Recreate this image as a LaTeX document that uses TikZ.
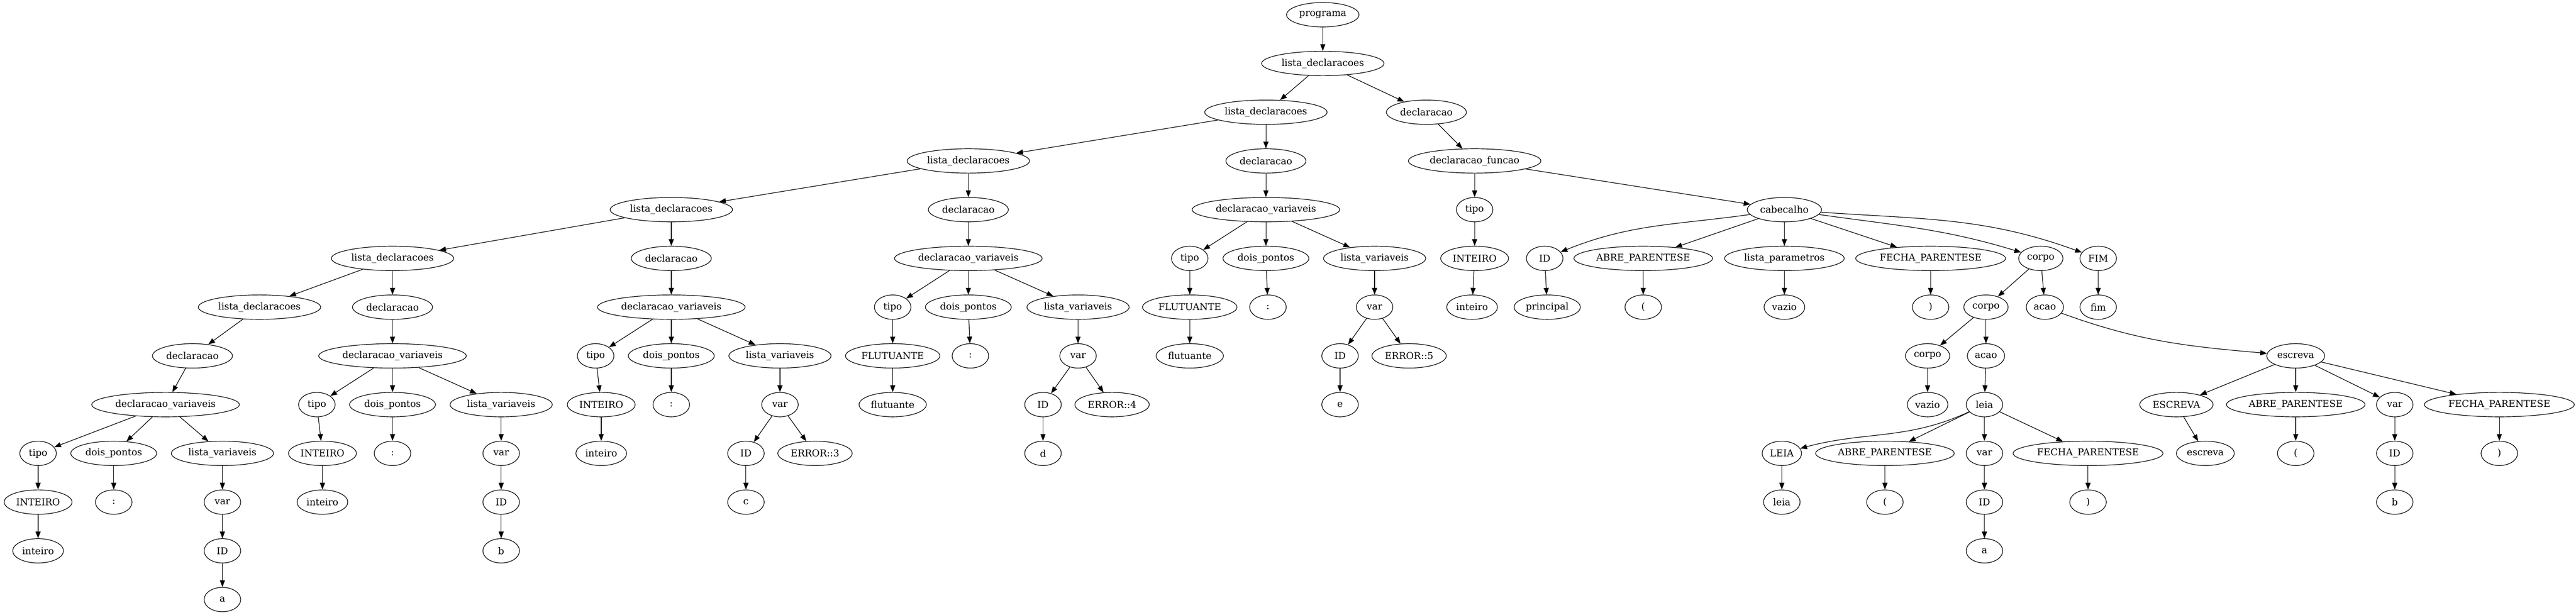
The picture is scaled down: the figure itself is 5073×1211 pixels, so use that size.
\documentclass[tikz,border=0pt]{standalone}
\usepackage{fontspec}
\setmainfont{DejaVu Serif}
\usetikzlibrary{shapes.geometric,arrows.meta}
\begin{document}
\begin{tikzpicture}[x=0.75pt,y=-0.75pt,
    tn/.style={ellipse, draw, line width=0.9pt, minimum width=54pt, minimum height=36pt,
        inner xsep=3pt, inner ysep=1pt, font=\fontsize{14}{17}\selectfont},
    arr/.style={-{Triangle[length=10pt,width=7.5pt]}, line width=0.9pt}]
    \useasboundingbox (0,0) rectangle (5073,1211);

    % Rows 0 and 1
    \node[tn] (prog) at (2605,29) {programa};
    \node[tn] (ldA) at (2605,125) {lista\_declaracoes};

    % Row 2
    \foreach \nm/\xx/\lbl in {ldB/2493/lista\_declaracoes, dcA/2809/declaracao} {
        \node[tn] (\nm) at (\xx,221) {\lbl};
    }

    % Row 3
    \foreach \nm/\xx/\lbl in {ldC/1907/lista\_declaracoes, dcB/2493/declaracao,
        dfun/2904/declaracao\_funcao} {
        \node[tn] (\nm) at (\xx,317) {\lbl};
    }

    % Row 4
    \foreach \nm/\xx/\lbl in {ldD/1322/lista\_declaracoes, dcC/1907/declaracao,
        dvB/2493/declaracao\_variaveis, ftipo/2904/tipo, cab/3514/cabecalho} {
        \node[tn] (\nm) at (\xx,413) {\lbl};
    }

    % Row 5
    \foreach \nm/\xx/\lbl in {ldE/773/lista\_declaracoes, dcD/1322/declaracao,
        dvC/1907/declaracao\_variaveis, tpB/2343/tipo, dpB/2493/dois\_pontos,
        lvB/2707/lista\_variaveis, fint/2904/INTEIRO, cid/3042/ID,
        cabre/3236/ABRE\_PARENTESE, lpar/3514/lista\_parametros,
        cfecha/3802/FECHA\_PARENTESE, crpA/4019/corpo, cfim/4132/FIM} {
        \node[tn] (\nm) at (\xx,509) {\lbl};
    }

    % Row 6
    \foreach \nm/\xx/\lbl in {ldF/511/lista\_declaracoes, dcE/773/declaracao,
        dvD/1322/declaracao\_variaveis, tpC/1758/tipo, dpC/1907/dois\_pontos,
        lvC/2123/lista\_variaveis, flB/2343/FLUTUANTE, colB/2497/:, varB/2707/var,
        fintv/2899/inteiro, cidv/3047/principal, cabrev/3236/(, lparv/3514/vazio,
        cfechav/3802/), crpB/3911/corpo, acA/4027/acao, cfimv/4132/fim} {
        \node[tn] (\nm) at (\xx,605) {\lbl};
    }

    % Row 7
    \foreach \nm/\xx/\lbl in {dcF/379/declaracao, dvE/773/declaracao\_variaveis,
        tpD/1173/tipo, dpD/1322/dois\_pontos, lvD/1536/lista\_variaveis,
        flC/1758/FLUTUANTE, colC/1911/:, varC/2123/var, flBv/2343/flutuante,
        idB/2639/ID, errB/2775/ERROR::5, crpC/3796/corpo, acB/3911/acao,
        esc/4521/escreva} {
        \node[tn] (\nm) at (\xx,701) {\lbl};
    }

    % Row 8
    \foreach \nm/\xx/\lbl in {dvF/326/declaracao\_variaveis, tpE/624/tipo,
        dpE/773/dois\_pontos, lvE/987/lista\_variaveis, inD/1184/INTEIRO,
        colD/1322/:, varD/1536/var, flCv/1758/flutuante, idC/2054/ID,
        errC/2190/ERROR::4, idBv/2639/e, crpCv/3796/vazio, lei/3908/leia,
        escT/4286/ESCREVA, escA/4521/ABRE\_PARENTESE, escV/4716/var,
        escF/4922/FECHA\_PARENTESE} {
        \node[tn] (\nm) at (\xx,797) {\lbl};
    }

    % Row 9
    \foreach \nm/\xx/\lbl in {tpF/75/tipo, dpF/224/dois\_pontos,
        lvF/438/lista\_variaveis, inE/635/INTEIRO, colE/773/:, varE/987/var,
        inDv/1184/inteiro, idD/1469/ID, errD/1605/ERROR::3, idCv/2054/d,
        leiT/3509/LEIA, leiA/3712/ABRE\_PARENTESE, leiV/3908/var,
        leiF/4112/FECHA\_PARENTESE, escTv/4343/escreva, escAv/4521/(,
        escI/4716/ID, escFv/4922/)} {
        \node[tn] (\nm) at (\xx,893) {\lbl};
    }

    % Row 10
    \foreach \nm/\xx/\lbl in {inF/75/INTEIRO, colF/224/:, varF/438/var,
        inEv/635/inteiro, idE/987/ID, idDv/1469/c, leiTv/3509/leia,
        leiAv/3712/(, leiI/3908/ID, leiFv/4112/), escIv/4716/b} {
        \node[tn] (\nm) at (\xx,989) {\lbl};
    }

    % Rows 11 and 12
    \foreach \nm/\xx/\lbl in {inFv/75/inteiro, idF/438/ID, idEv/987/b, leiIv/3908/a} {
        \node[tn] (\nm) at (\xx,1085) {\lbl};
    }
    \node[tn] (idFv) at (438,1181) {a};

    % Straight edges
    \foreach \a/\b in {prog/ldA, ldA/ldB, ldA/dcA, ldB/ldC, ldB/dcB, dcA/dfun,
        ldC/ldD, ldC/dcC, dcB/dvB, dfun/ftipo, dfun/cab,
        ldD/ldE, ldD/dcD, dcC/dvC, dvB/tpB, dvB/dpB, dvB/lvB, ftipo/fint,
        cab/cabre, cab/lpar, cab/cfecha,
        ldE/ldF, ldE/dcE, dcD/dvD, dvC/tpC, dvC/dpC, dvC/lvC, tpB/flB, dpB/colB,
        lvB/varB, fint/fintv, cid/cidv, cabre/cabrev, lpar/lparv, cfecha/cfechav,
        crpA/crpB, crpA/acA, cfim/cfimv,
        ldF/dcF, dcE/dvE, dvD/tpD, dvD/dpD, dvD/lvD, tpC/flC, dpC/colC, lvC/varC,
        flB/flBv, varB/idB, varB/errB, crpB/crpC, crpB/acB,
        dcF/dvF, dvE/tpE, dvE/dpE, dvE/lvE, tpD/inD, dpD/colD, lvD/varD, flC/flCv,
        varC/idC, varC/errC, idB/idBv, crpC/crpCv, acB/lei,
        esc/escT, esc/escA, esc/escV, esc/escF,
        dvF/tpF, dvF/dpF, dvF/lvF, tpE/inE, dpE/colE, lvE/varE, inD/inDv,
        varD/idD, varD/errD, idC/idCv, lei/leiA, lei/leiV, lei/leiF,
        escT/escTv, escA/escAv, escV/escI, escF/escFv,
        tpF/inF, dpF/colF, lvF/varF, inE/inEv, varE/idE, idD/idDv,
        leiT/leiTv, leiA/leiAv, leiV/leiI, leiF/leiFv, escI/escIv,
        inF/inFv, varF/idF, idE/idEv, leiI/leiIv, idF/idFv} {
        \draw[arr] (\a) -- (\b);
    }

    % Curved edges
    \draw[arr] (cab) to[out=188,in=22] (cid);
    \draw[arr] (cab) to[out=-8,in=163] (crpA);
    \draw[arr] (cab) to[out=-4,in=160] (cfim);
    \draw[arr] (acA) to[out=-20,in=175] (esc);
    \draw[arr] (lei) to[out=205,in=15] (leiT);
\end{tikzpicture}
\end{document}
